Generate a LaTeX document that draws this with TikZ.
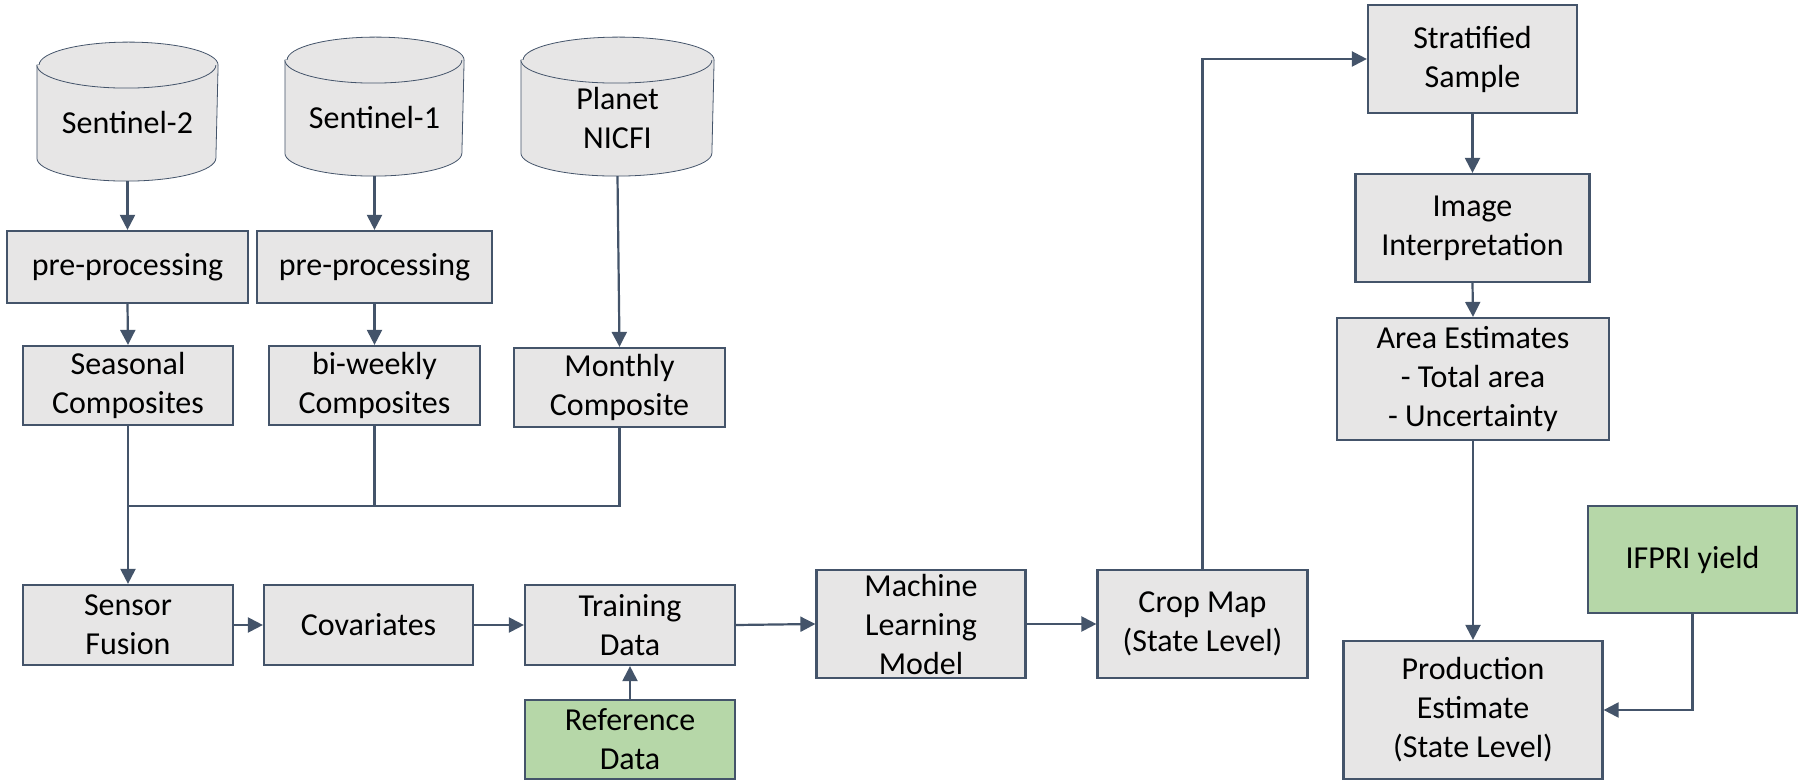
\documentclass[tikz,border=0pt]{standalone}
\usepackage{fontspec}
\setmainfont{Carlito}
\usetikzlibrary{calc,backgrounds,arrows.meta}

\definecolor{boxgray}{RGB}{231,230,230}
\definecolor{edgeblue}{RGB}{68,84,106}
\definecolor{boxgreen}{RGB}{182,215,168}

% cylinder outline behind a named text node: #1 node, #2 half width
\newcommand{\dbdraw}[2]{%
  \draw [dbline] ($(#1.south west)+(0,-116)$) -- ($(#1.south west)+(0,-23)$)
    arc (180:0:#2 and 23) -- ($(#1.south east)+(0,-116)$)
    arc (0:-180:#2 and 23) -- cycle;
  \draw [dbline] ($(#1.south west)+(0,-116)$) arc (180:0:#2 and 23);
}

\tikzset{every picture/.style={line width=1.1pt}}
\tikzset{
  wh/.style 2 args={minimum width=#1*0.5pt, minimum height=#2*0.5pt},
  box/.style={rectangle, draw=edgeblue, fill=boxgray, align=center, inner sep=0pt,
    font=\fontsize{16}{19.5}\selectfont},
  greenbox/.style={box, fill=boxgreen},
  db/.style={rectangle, align=center, inner sep=0pt, font=\fontsize{16}{19.5}\selectfont},
  dbline/.style={draw=edgeblue, fill=boxgray},
  conn/.style={draw=edgeblue, -{Triangle[length=7.5pt,width=7.5pt]}},
  wire/.style={draw=edgeblue}
}

\begin{document}
\begin{tikzpicture}[x=0.5pt,y=0.5pt,yscale=-1,xscale=1]
\useasboundingbox (0,0) rectangle (1800,780);

% Data sources
\node [db, wh={179}{114}] (s2) at (127.5,123) {Sentinel-2};
\node [db, wh={177}{114}] (s1) at (374.5,118) {Sentinel-1};
\node [db, wh={191}{113}] (planet) at (617.5,118.5) {Planet\\NICFI};
\begin{scope}[on background layer]
\dbdraw{s2}{89.5}
\dbdraw{s1}{88.5}
\dbdraw{planet}{95.5}
\end{scope}

% Text Node
\node [box, wh={241}{72}] (pre1) at (127.5,267) {pre-processing};
\node [box, wh={235}{72}] (pre2) at (374.5,267) {pre-processing};
% Text Node
\node [box, wh={210}{79}] (seasonal) at (128,385.5) {Seasonal\\Composites};
\node [box, wh={211}{79}] (biweekly) at (374.5,385.5) {bi-weekly\\Composites};
\node [box, wh={211}{79}] (monthly) at (619.5,387.5) {Monthly\\Composite};
% Text Node
\node [box, wh={210}{80}] (sensor) at (128,625) {Sensor\\Fusion};
\node [box, wh={209}{80}] (covariates) at (368.5,625) {Covariates};
\node [box, wh={210}{80}] (training) at (630,625) {Training\\Data};
\node [greenbox, wh={210}{79}] (reference) at (630,739.5) {Reference\\Data};
\node [box, wh={209}{108}] (ml) at (921,624) {Machine\\Learning\\Model};
\node [box, wh={210}{108}] (cropmap) at (1202.5,624) {Crop Map\\(State Level)};
% Text Node
\node [box, wh={209}{108}] (strat) at (1472.5,59) {Stratified\\Sample};
\node [box, wh={234}{108}] (image) at (1472.5,228) {Image\\Interpretation};
\node [box, wh={272}{122}] (area) at (1473,379) {Area Estimates\\- Total area\\- Uncertainty};
\node [box, wh={259}{138}] (production) at (1473,710) {Production\\Estimate\\(State Level)};
\node [greenbox, wh={209}{107}] (ifpri) at (1692.5,559.5) {IFPRI yield};

\coordinate (join) at (128,506);

% Connection
\draw [conn] (s2.south) -- (pre1.north);
\draw [conn] (pre1.south) -- (seasonal.north);
\draw [conn] (s1.south) -- (pre2.north);
\draw [conn] (pre2.south) -- (biweekly.north);
\draw [conn] (planet.south) -- (monthly.north);
% Connection
\draw [wire] (biweekly.south) |- (join);
\draw [wire] (monthly.south) |- (join);
\draw [conn] (seasonal.south) -- (sensor.north);
% Connection
\draw [conn] (sensor.east) -- (covariates.west);
\draw [conn] (covariates.east) -- (training.west);
\draw [conn] (reference.north) -- (training.south);
\draw [conn] (training.east) -- (ml.west);
\draw [conn] (ml.east) -- (cropmap.west);
% Connection
\draw [conn] (cropmap.north) |- (strat.west);
\draw [conn] (strat.south) -- (image.north);
\draw [conn] (image.south) -- (area.north);
\draw [conn] (area.south) -- (production.north);
\draw [conn] (ifpri.south) |- (production.east);

\end{tikzpicture}
\end{document}
